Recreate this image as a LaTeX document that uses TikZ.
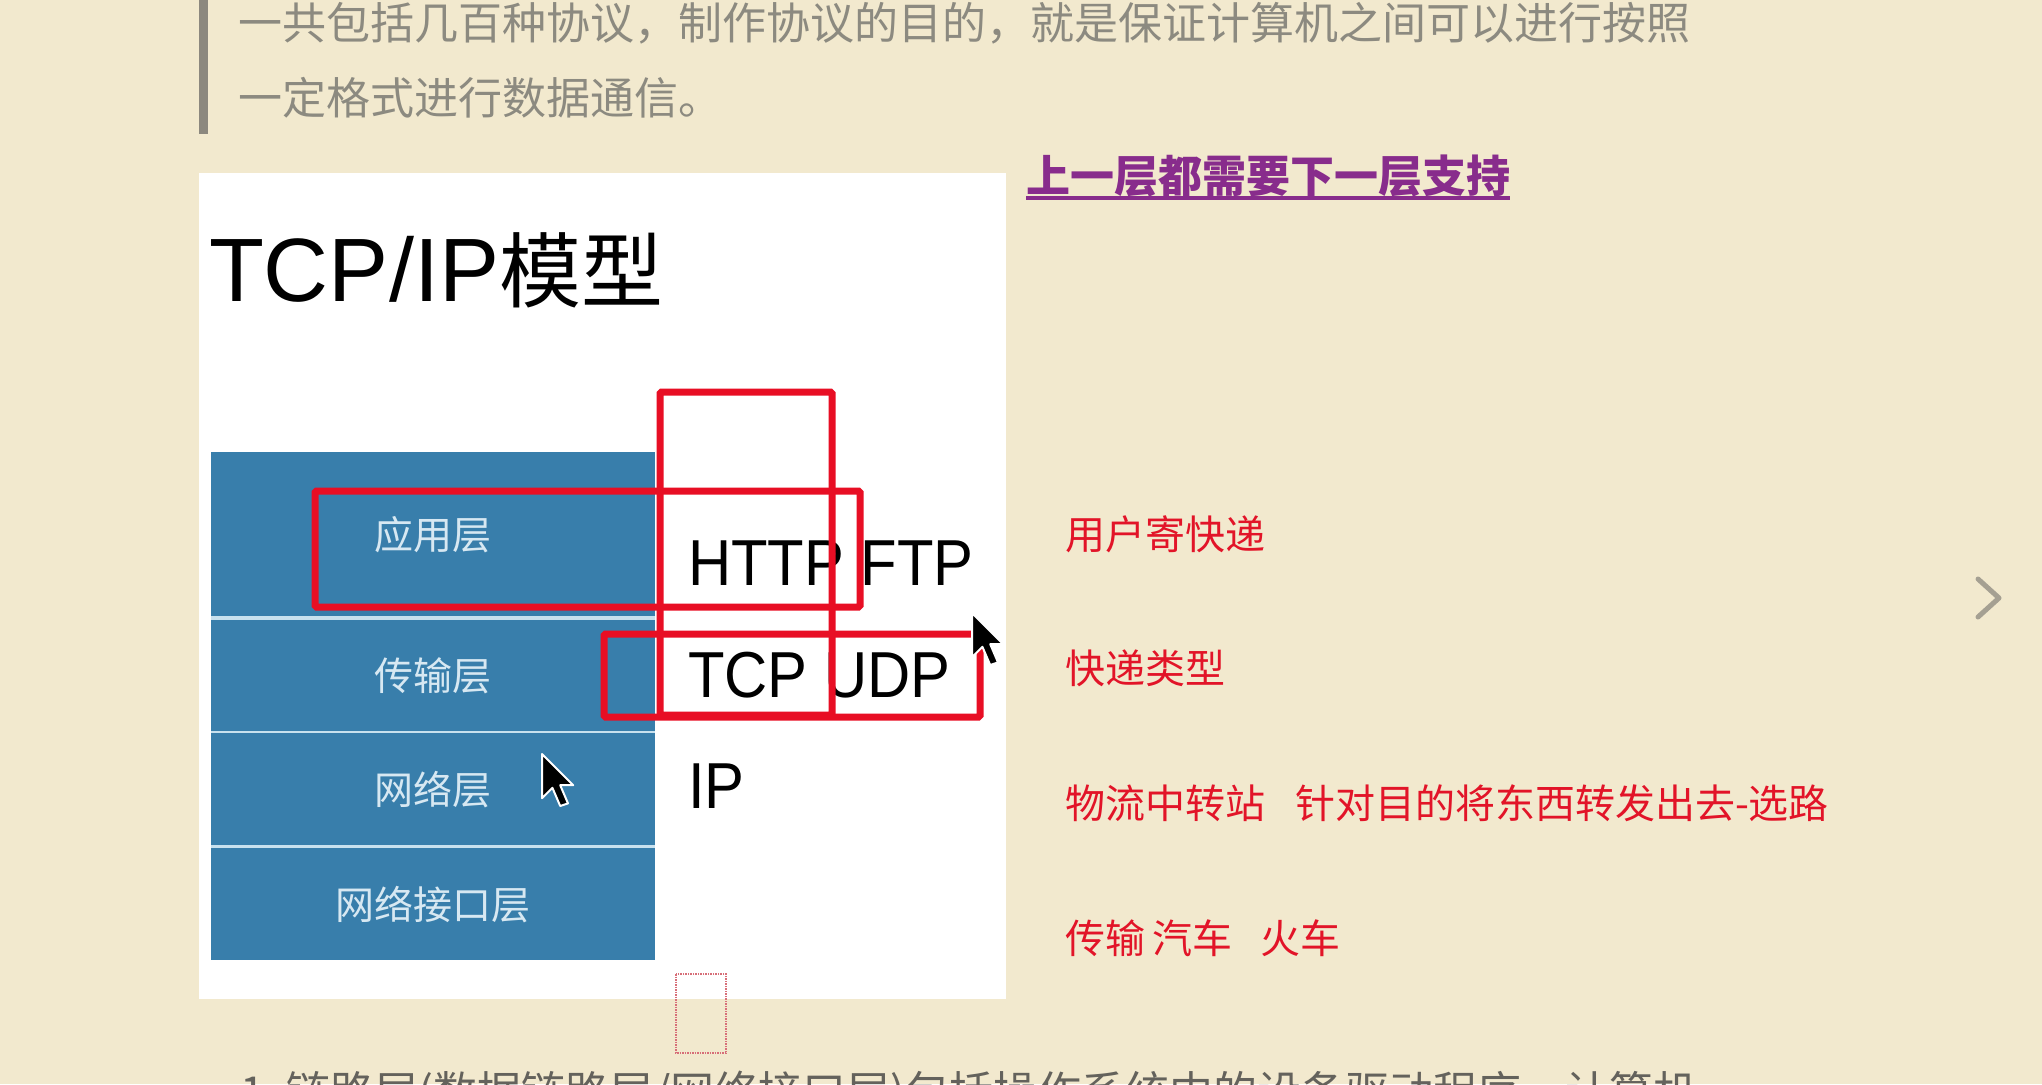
\documentclass[tikz,border=0pt]{standalone}
\usepackage{fontspec}
\setmainfont{Noto Sans CJK SC}
\newfontfamily\latn[FakeStretch=0.92]{Liberation Sans}
\newfontfamily\latt{Liberation Sans}
\definecolor{bg}{RGB}{242,233,206}
\definecolor{bar}{RGB}{140,136,126}
\definecolor{graytext}{RGB}{140,138,128}
\definecolor{bottomgray}{RGB}{100,98,92}
\definecolor{layerblue}{RGB}{56,126,171}
\definecolor{layersep}{RGB}{200,225,238}
\definecolor{layertext}{RGB}{215,232,242}
\definecolor{hl}{RGB}{232,14,36}
\definecolor{notered}{RGB}{226,20,40}
\definecolor{linkpurple}{RGB}{136,44,140}
\definecolor{chev}{RGB}{165,160,146}
\definecolor{dotred}{RGB}{215,110,120}
\tikzset{
  txt/.style={inner sep=0pt, outer sep=0pt},
  para/.style={txt, anchor=west, text=graytext, font=\fontsize{44}{50}\selectfont},
  layerbox/.style={fill=layerblue, draw=none, anchor=north west, inner sep=0pt,
    minimum width=444pt, text=layertext, font=\fontsize{39}{44}\selectfont},
  proto/.style={txt, anchor=base west, font=\latn\fontsize{65}{70}\selectfont},
  hlbox/.style={draw=hl, line width=7pt, rounded corners=1.5pt},
  annot/.style={txt, anchor=west, text=notered, font=\fontsize{40}{46}\selectfont},
  mouse/.style={fill=black, draw=white, line width=2pt, line join=round},
}
\begin{document}
\begin{tikzpicture}[x=1pt,y=-1pt]
\useasboundingbox (0,0) rectangle (2042,1084);
\clip (0,0) rectangle (2042,1084);
\fill[bg] (0,0) rectangle (2042,1084);
% quote bar and paragraph
\fill[bar] (199,0) rectangle (208,134);
\node[para] (p1) at (238,23) {一共包括几百种协议，制作协议的目的，就是保证计算机之间可以进行按照};
\node[para] (p2) at (238,98) {一定格式进行数据通信。};
% white panel
\fill[white] (199,173) rectangle (1006,999);
\node[txt, anchor=base west, font=\fontsize{82}{96}\selectfont] (title) at (209,301)
  {{\latt\fontsize{90}{96}\selectfont TCP/IP}模型};
% layers
\fill[layersep] (211,452) rectangle (655,960);
\node[layerbox, minimum height=164pt] (app) at (211,452) {应用层};
\node[layerbox, minimum height=111pt] (trans) at (211,620) {传输层};
\node[layerbox, minimum height=112pt] (net) at (211,733) {网络层};
\node[layerbox, minimum height=112pt] (link) at (211,848) {网络接口层};
% protocols
\node[proto] (http) at (688,585) {HTTP FTP};
\node[proto] (tcp) at (688,697) {TCP UDP};
\node[proto] (ip) at (688,808) {IP};
% red highlight boxes
\draw[hlbox] (660,392) rectangle (832,715);
\draw[hlbox] (315,491) rectangle (860,607);
\draw[hlbox] (604,634) rectangle (980,717);
% cursors
\draw[mouse, shift={(972,613)}, scale=2.6] (0,0) -- (0,17) -- (4,13) -- (7,20) -- (10,19) -- (7,12) -- (12,12) -- cycle;
\draw[mouse, shift={(542,754)}, scale=2.6] (0,0) -- (0,17) -- (4,13) -- (7,20) -- (10,19) -- (7,12) -- (12,12) -- cycle;
% dotted marker
\draw[dotred, densely dotted, line width=1.5pt] (676,974) rectangle (726,1053);
% purple heading
\node[txt, anchor=west, text=linkpurple, font=\bfseries\fontsize{44}{50}\selectfont] (sup) at (1026,176) {上一层都需要下一层支持};
\draw[linkpurple, line width=4pt] ([yshift=-6pt]sup.base west) -- ([yshift=-6pt]sup.base east);
% annotations
\node[annot] (n1) at (1065,534) {用户寄快递};
\node[annot] (n2) at (1065,668) {快递类型};
\node[annot] (n3) at (1065,803) {物流中转站\hspace{30pt}针对目的将东西转发出去-选路};
\node[annot] (n4) at (1065,938) {传输\hspace{7pt}汽车\hspace{28pt}火车};
% chevron
\draw[chev, line width=5pt, line cap=round, line join=round] (1978,579) -- (1999,598) -- (1978,617);
% cut-off bottom line
\node[txt, anchor=base west, text=bottomgray, font=\fontsize{44}{50}\selectfont] (p3) at (240,1108)
  {1.\ 链路层(数据链路层/网络接口层)包括操作系统中的设备驱动程序、计算机};
\end{tikzpicture}
\end{document}
